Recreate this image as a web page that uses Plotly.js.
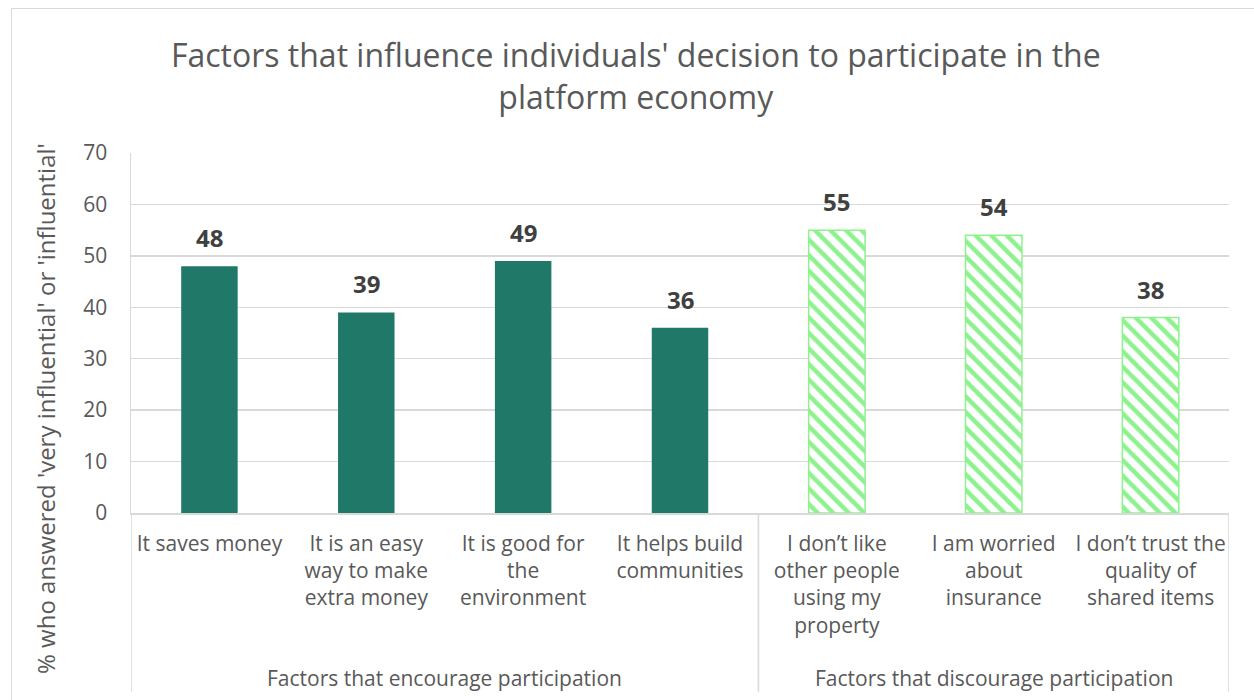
<!DOCTYPE html>
<html>
<head>
<meta charset="utf-8">
<script src="https://cdn.plot.ly/plotly-3.0.1.min.js"></script>
<style>
  html, body { margin: 0; padding: 0; background: #fff; }
  #wrap { position: relative; width: 1254px; height: 700px; overflow: hidden; }
  #chart { width: 1254px; height: 700px; }
  #frame { position: absolute; left: 11px; top: 8px; width: 1300px; height: 760px;
           border: 1.5px solid #D9D9D9; pointer-events: none; box-sizing: border-box; }
</style>
</head>
<body>
<div id="wrap">
  <div id="chart"></div>
  <div id="frame"></div>
</div>
<script>
// ---- Data ----
const categories = [
  "It saves money",
  "It is an easy way to make extra money",
  "It is good for the environment",
  "It helps build communities",
  "I don’t like other people using my property",
  "I am worried about insurance",
  "I don’t trust the quality of shared items"
];
const tickLabels = [
  "It saves money",
  "It is an easy<br>way to make<br>extra money",
  "It is good for<br>the<br>environment",
  "It helps build<br>communities",
  "I don’t like<br>other people<br>using my<br>property",
  "I am worried<br>about<br>insurance",
  "I don’t trust the<br>quality of<br>shared items"
];
const encourageCats = categories.slice(0, 4);
const encourageValues = [48, 39, 49, 36];
const discourageCats = categories.slice(4);
const discourageValues = [55, 54, 38];
const groupNames = ["Factors that encourage participation", "Factors that discourage participation"];
const groupCenters = [1.5, 5];
const yTicks = [0, 10, 20, 30, 40, 50, 60, 70];

const teal = "#207868";
const green = "#8DF28D";
const grey = "#595959";
const lineGrey = "#D9D9D9";
const font = "Open Sans, sans-serif";

const traces = [
  {
    type: "bar", x: encourageCats, y: encourageValues, width: 0.36,
    marker: { color: teal, line: { width: 0 } },
    hoverinfo: "x+y", showlegend: false
  },
  {
    type: "bar", x: discourageCats, y: discourageValues, width: 0.36,
    marker: {
      color: green,
      line: { color: green, width: 1.5 },
      pattern: { shape: "\\", fillmode: "replace", fgcolor: green, bgcolor: "#ffffff", size: 11, solidity: 0.4 }
    },
    hoverinfo: "x+y", showlegend: false
  }
];

const annotations = [];
const labelFont = { family: font, size: 24, color: "#404040", weight: "bold" };
encourageCats.forEach((c, i) => annotations.push({
  x: c, y: encourageValues[i], xref: "x", yref: "y", text: String(encourageValues[i]),
  showarrow: false, yanchor: "bottom", yshift: 10, font: labelFont
}));
discourageCats.forEach((c, i) => annotations.push({
  x: c, y: discourageValues[i], xref: "x", yref: "y", text: String(discourageValues[i]),
  showarrow: false, yanchor: "bottom", yshift: 10, font: labelFont
}));
groupNames.forEach((g, i) => annotations.push({
  x: groupCenters[i], y: -0.458, xref: "x", yref: "paper", text: g,
  showarrow: false, yanchor: "middle", xanchor: "center",
  font: { family: font, size: 21, color: grey }
}));
annotations.push({
  x: -0.078, y: 0.29, xref: "paper", yref: "paper",
  text: "% who answered 'very influential' or 'influential'",
  textangle: -90, showarrow: false, xanchor: "center", yanchor: "middle",
  font: { family: font, size: 24, color: grey }
});

const dividerBottom = -0.497;
const shapes = [-0.5, 3.5, 6.5].map(xv => ({
  type: "line", xref: "x", yref: "paper", x0: xv, x1: xv, y0: 0, y1: dividerBottom,
  line: { color: lineGrey, width: 1.5 }
}));

const layout = {
  width: 1254, height: 700,
  margin: { l: 131, r: 25, t: 153, b: 187 },
  paper_bgcolor: "#ffffff", plot_bgcolor: "#ffffff",
  barmode: "overlay",
  title: {
    text: "Factors that influence individuals' decision to participate in the<br>platform economy",
    x: 0.507, xanchor: "center", y: 0.904, yanchor: "middle", yref: "container",
    font: { family: font, size: 32, color: grey }
  },
  xaxis: {
    type: "category", categoryorder: "array", categoryarray: categories,
    tickvals: categories, ticktext: tickLabels,
    range: [-0.5, 6.5],
    showgrid: false, zeroline: false, showline: true, linecolor: lineGrey, linewidth: 1.5,
    ticks: "", ticklabelstandoff: 11,
    tickfont: { family: font, size: 21, color: grey }
  },
  yaxis: {
    range: [0, 70], tickvals: yTicks, ticktext: yTicks.map(String),
    showgrid: true, gridcolor: lineGrey, gridwidth: 1.5,
    zeroline: false, showline: true, linecolor: lineGrey, linewidth: 1.5,
    ticks: "", ticklabelstandoff: 18,
    tickfont: { family: font, size: 21, color: grey }
  },
  annotations: annotations,
  shapes: shapes
};

Plotly.newPlot("chart", traces, layout, { displayModeBar: false, staticPlot: true });
</script>
</body>
</html>
